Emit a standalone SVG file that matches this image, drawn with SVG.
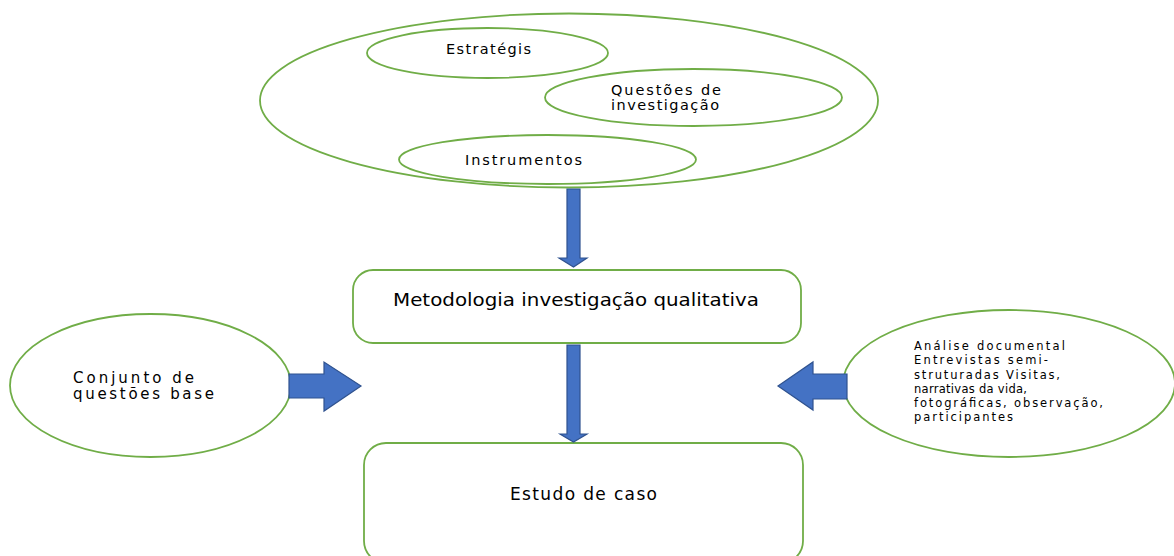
<svg xmlns="http://www.w3.org/2000/svg" width="1174" height="556" viewBox="0 0 1174 556">
<style>
.sh{fill:#fff;stroke:#70AD47;stroke-width:1.8}
.ar{fill:#4472C4;stroke:#2F528F;stroke-width:1.2}
text{font-family:"DejaVu Sans","Verdana",sans-serif;fill:#000}
.t13{font-size:14.5px}
.t14{font-size:15px}
.t15{font-size:17px}
.t11{font-size:11.5px}
</style>
<rect width="1174" height="556" fill="#fff"/>
<g id="grupo-topo">
<ellipse class="sh" cx="569" cy="100.5" rx="309" ry="87"/>
</g>
<g id="estrategis">
<ellipse class="sh" cx="487.5" cy="53" rx="120.5" ry="25"/>
<text class="t13" x="446" y="54" textLength="85" lengthAdjust="spacing">Estratégis</text>
</g>
<g id="questoes">
<ellipse class="sh" cx="693.5" cy="97.5" rx="148.5" ry="28.5"/>
<text class="t13" x="611" y="95" textLength="110" lengthAdjust="spacing">Questões de</text>
<text class="t13" x="611" y="110" textLength="108" lengthAdjust="spacing">investigação</text>
</g>
<g id="instrumentos">
<ellipse class="sh" cx="547.5" cy="159.5" rx="148.5" ry="24.5"/>
<text class="t13" x="465" y="165" textLength="117" lengthAdjust="spacing">Instrumentos</text>
</g>
<g id="metodologia">
<rect class="sh" x="353" y="270" width="448" height="73" rx="20"/>
<text class="t15" x="393" y="306" textLength="366" lengthAdjust="spacingAndGlyphs">Metodologia investigação qualitativa</text>
</g>
<g id="estudo">
<rect class="sh" x="364" y="443" width="439" height="120" rx="22"/>
<text class="t15" x="510" y="500" textLength="147" lengthAdjust="spacing">Estudo de caso</text>
</g>
<g id="conjunto">
<ellipse class="sh" cx="150.5" cy="385.5" rx="140.5" ry="71.5"/>
<text class="t14" x="73" y="383" textLength="121" lengthAdjust="spacing">Conjunto de</text>
<text class="t14" x="73" y="399" textLength="141" lengthAdjust="spacing">questões base</text>
</g>
<g id="metodos">
<ellipse class="sh" cx="1009" cy="383.5" rx="166" ry="73.5"/>
<text class="t11" x="914" y="350" textLength="151" lengthAdjust="spacing">Análise documental</text>
<text class="t11" x="914" y="364" textLength="134" lengthAdjust="spacing">Entrevistas semi-</text>
<text class="t11" x="914" y="379" textLength="146" lengthAdjust="spacing">struturadas Visitas,</text>
<text class="t11" x="914" y="393" textLength="113" lengthAdjust="spacing">narrativas da vida,</text>
<text class="t11" x="914" y="407" textLength="189" lengthAdjust="spacing">fotográficas, observação,</text>
<text class="t11" x="914" y="421" textLength="99" lengthAdjust="spacing">participantes</text>
</g>
<g id="conectores">
<path class="ar" d="M567,189 H580 V258 H587 L573.5,267 L559,258 H567 Z"/>
<path class="ar" d="M567,345 H580 V434 H587 L573.5,442 L560,434 H567 Z"/>
<path class="ar" d="M289,374 H324 V362 L361,386 L324,411 V398 H289 Z"/>
<path class="ar" d="M847,374 H813 V362 L778,386 L813,410 V399 H847 Z"/>
</g>
</svg>
